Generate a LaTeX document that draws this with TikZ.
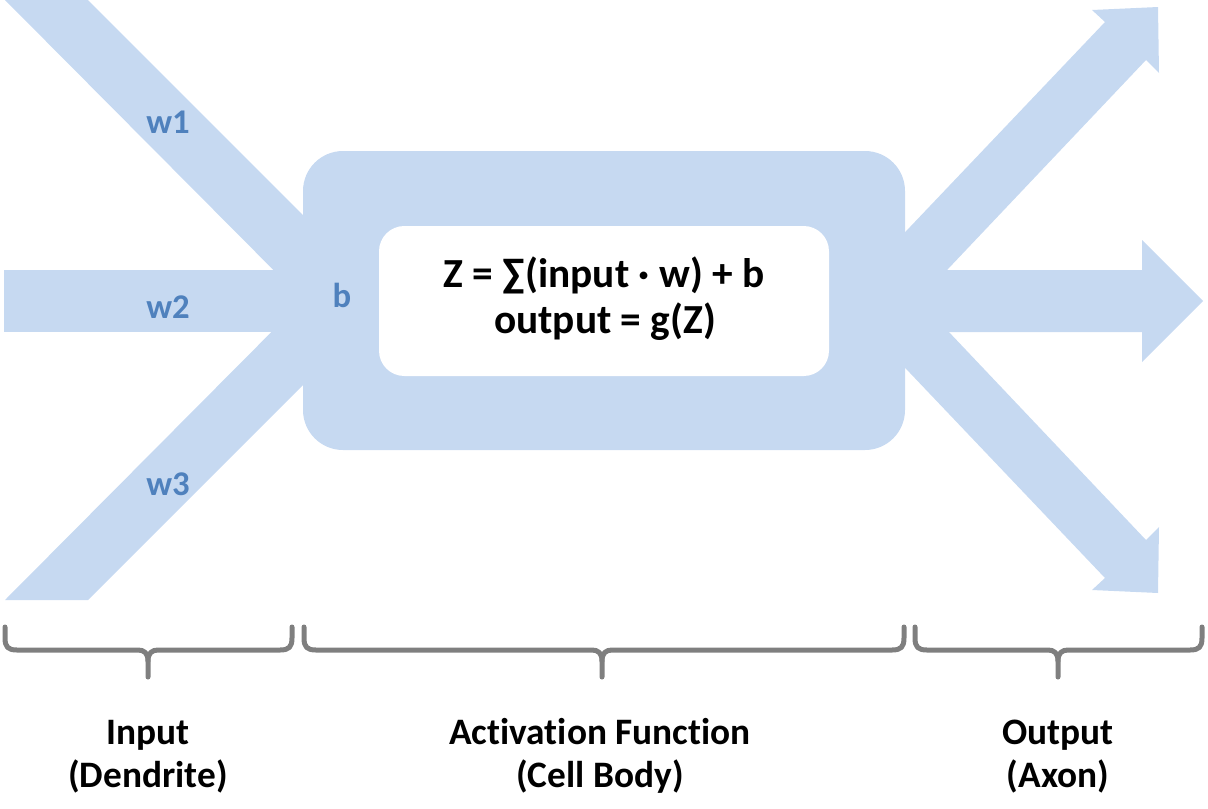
\documentclass[tikz,border=0pt]{standalone}
\usepackage{fontspec}
\setmainfont{Carlito}[Ligatures=CommonOff]
\definecolor{band}{HTML}{C6D9F1}
\definecolor{lab}{HTML}{4F81BD}
\definecolor{brc}{HTML}{7F7F7F}
\begin{document}
\begin{tikzpicture}[x=0.75pt,y=-0.75pt,
  bandfill/.style={fill=band},
  wlab/.style={anchor=base,text=lab,font=\fontsize{26}{30}\selectfont\bfseries,inner sep=0},
  formula/.style={anchor=base,font=\fontsize{31}{36}\selectfont\bfseries,inner sep=0},
  caption/.style={anchor=base,font=\fontsize{28}{32}\selectfont\bfseries,inner sep=0},
  bracepath/.style={draw=brc,line width=3.75pt,line cap=round,line join=round}]
\useasboundingbox (0,0) rectangle (1208,808);
% input bands
\path[bandfill] (5,0) -- (88,0) -- (340,252) -- (340,337) -- cycle;
\path[bandfill] (4,270) rectangle (340,332);
\path[bandfill] (5,600) -- (88,600) -- (340,348) -- (340,263) -- cycle;
% output arrows
\path[bandfill] (880,270) -- (1142,270) -- (1142,240) -- (1203,301) -- (1142,362) -- (1142,332) -- (880,332) -- cycle;
\path[bandfill] (871,268) -- (1105,22) -- (1092,10) -- (1158,7) -- (1159,73) -- (1146,60) -- (912,307) -- cycle;
\path[bandfill] (871,332) -- (1105,578) -- (1092,590) -- (1158,593) -- (1159,527) -- (1146,540) -- (912,293) -- cycle;
% cell body
\node (cell) [bandfill,rounded corners=30pt,minimum width=451.5pt,minimum height=224.25pt,inner sep=0] at (604,300.5) {};
\node (inner) [fill=white,rounded corners=19pt,minimum width=337.5pt,minimum height=112.5pt,inner sep=0] at (604,301) {};
\node (f1) [formula] at (604,287) {Z = ∑(input · w) + b};
\node (f2) [formula] at (605,333) {output = g(Z)};
% labels
\node (w1) [wlab] at (168,133) {w1};
\node (w2) [wlab] at (168,318) {w2};
\node (w3) [wlab] at (168,495) {w3};
\node (b) [wlab] at (342,307) {b};
% braces
\newcommand\mybrace[3]{%
  \draw[bracepath] ({#1},627) -- ({#1},638) .. controls ({#1},647) and ({#1+3},650) .. ({#1+12},650) -- ({#2-10},650) .. controls ({#2-4},650) and ({#2},653) .. ({#2},661) -- ({#2},677);
  \draw[bracepath] ({#3},627) -- ({#3},638) .. controls ({#3},647) and ({#3-3},650) .. ({#3-12},650) -- ({#2+10},650) .. controls ({#2+4},650) and ({#2},653) .. ({#2},661);
}
\mybrace{5}{148}{292}
\mybrace{304}{602}{904}
\mybrace{915}{1058}{1202}
\node (in1) [caption] at (148,744) {Input};
\node (in2) [caption] at (148,787) {(Dendrite)};
\node (ac1) [caption] at (600,744) {Activation Function};
\node (ac2) [caption] at (600,787) {(Cell Body)};
\node (ou1) [caption] at (1058,744) {Output};
\node (ou2) [caption] at (1058,787) {(Axon)};
\end{tikzpicture}
\end{document}
